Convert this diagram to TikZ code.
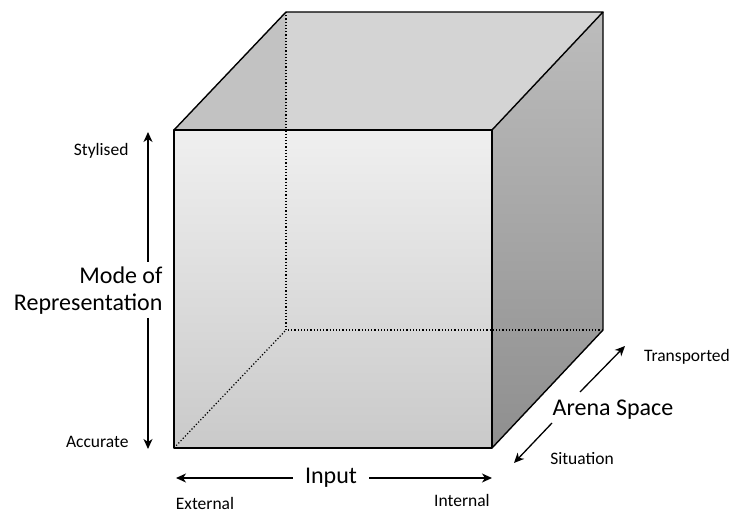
\documentclass[tikz,border=0pt]{standalone}
\usepackage{fontspec}
\setmainfont{Carlito}
\usetikzlibrary{arrows.meta}

\begin{document}
\begin{tikzpicture}[x=1pt,y=-1pt,
  aresta/.style={line width=1.4pt,line join=round},
  oculta/.style={line width=1.2pt,dotted},
  seta/.style={-{Stealth[length=10pt,width=9pt,inset=3pt]},line width=1.3pt},
  rotulo/.style={font=\fontsize{17.5}{20}\selectfont},
  titulo/.style={font=\fontsize{24}{27}\selectfont,align=right}] %Início do gráfico
  \useasboundingbox (0,0) rectangle (732,513); %Margens
    %Vértices do cubo
  \coordinate (fa) at (174,130); \coordinate (fb) at (492,130);
  \coordinate (fc) at (492,448); \coordinate (fd) at (174,448);
  \coordinate (ta) at (286,12);  \coordinate (tb) at (603,12);
  \coordinate (tc) at (603,330); \coordinate (td) at (286,330);
    %Faces
  \fill[black!17] (fa) -- (ta) -- (tb) -- (fb) -- cycle; %Topo
  \fill[black!24] (fa) -- (ta) -- (ta |- fa) -- cycle; %Lado esquerdo
  \shade[top color=black!26, bottom color=black!44] (fb) -- (tb) -- (tc) -- (fc) -- cycle; %Lado direito
  \shade[top color=black!6, bottom color=black!21] (fa) rectangle (fc); %Frente
    %Arestas ocultas
  \draw[oculta] (ta) -- (td) -- (tc);
  \draw[oculta] (fd) -- (td);
    %Arestas visíveis
  \draw[aresta] (fa) -- (ta) -- (tb) -- (fb);
  \draw[aresta] (tb) -- (tc) -- (fc);
  \draw[aresta,line width=1.8pt] (fa) rectangle (fc);
    %Eixo vertical
  \node[titulo,anchor=east] (modo) at (166,291) {Mode of\\Representation};
  \node[rotulo,anchor=east] (estil) at (132,151) {Stylised};
  \node[rotulo,anchor=east] (exato) at (132,442) {Accurate};
  \coordinate (modoa) at (148,262); \coordinate (modob) at (148,318);
  \coordinate (topo) at (148,132); \coordinate (base) at (148,449);
  \draw[seta] (modoa) -- (topo);
  \draw[seta] (modob) -- (base);
    %Eixo horizontal
  \node[titulo,inner xsep=12pt] (entrada) at (331,478) {Input};
  \node[rotulo] (exter) at (205,503) {External};
  \node[rotulo] (inter) at (462,500) {Internal};
  \coordinate (esq) at (176,478); \coordinate (dir) at (492,478);
  \draw[seta] (entrada) -- (esq);
  \draw[seta] (entrada) -- (dir);
    %Eixo diagonal
  \node[titulo] (arena) at (613,410) {Arena Space};
  \node[rotulo] (transp) at (687,357) {Transported};
  \node[rotulo] (situa) at (582,459) {Situation};
  \coordinate (arenaa) at (580,392); \coordinate (arenab) at (552,423);
  \coordinate (frente) at (625,346); \coordinate (tras) at (514,463);
  \draw[seta] (arenaa) -- (frente);
  \draw[seta] (arenab) -- (tras);
\end{tikzpicture}
\end{document}
